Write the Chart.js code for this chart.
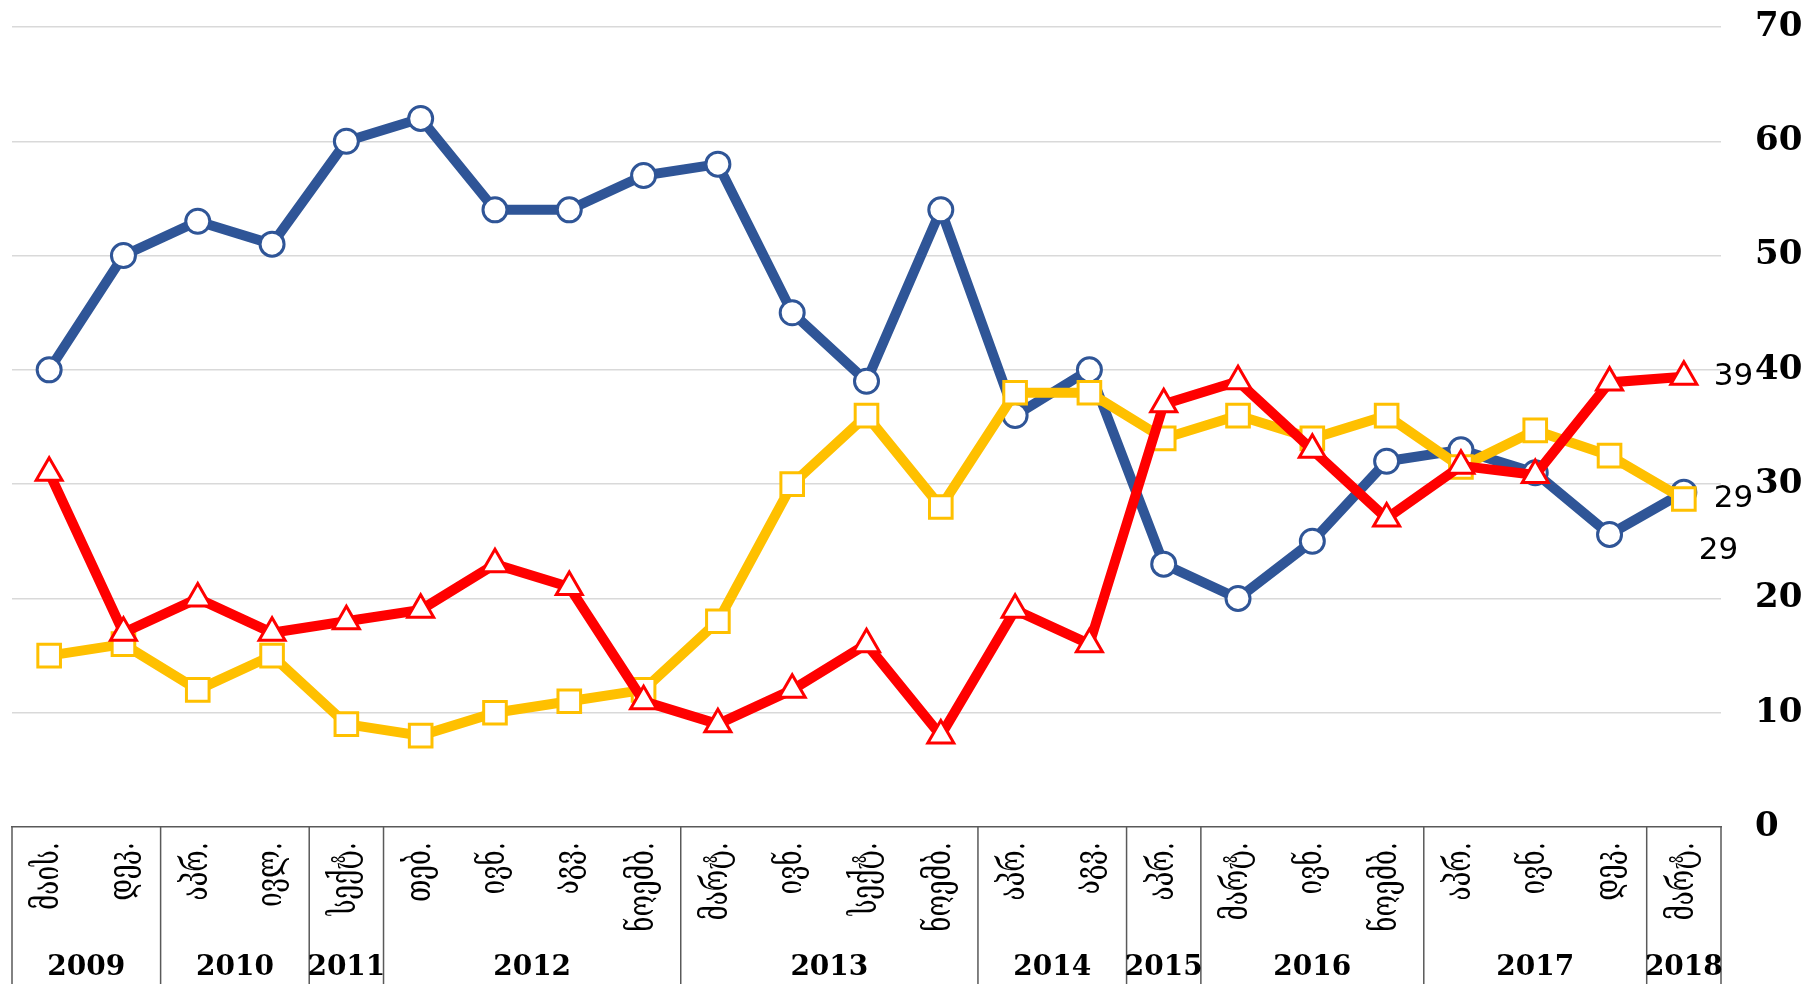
<!DOCTYPE html>
<html>
<head>
<meta charset="utf-8">
<script src="https://cdn.jsdelivr.net/npm/chart.js@4/dist/chart.umd.min.js"></script>
<style>
html,body{margin:0;padding:0;background:#fff;}
#wrap{width:1806px;height:984px;position:relative;}
</style>
</head>
<body>
<div id="wrap"><canvas id="c" width="1806" height="984"></canvas></div>
<script>
const months = ['მაის.','დეკ.','აპრ.','ივლ.','სექტ.','თებ.','ივნ.','აგვ.','ნოემბ.','მარტ.','ივნ.','სექტ.','ნოემბ.','აპრ.','აგვ.','აპრ.','მარტ.','ივნ.','ნოემბ.','აპრ.','ივნ.','დეკ.','მარტ.'];
const years = ['2009','2010','2011','2012','2013','2014','2015','2016','2017','2018'];
const yearCounts = [2,2,1,4,4,2,1,3,3,1];
const blueValues = [40,50,53,51,60,62,54,54,57,58,45,39,54,36,40,23,20,25,32,33,31,25.6,29.3];
const redValues = [31,17,20,17,18,19,23,21,11,9,12,16,8,19,16,37,39,33,27,31.6,30.8,38.9,39.4];
const yellowValues = [15,16,12,15,9,8,10,11,12,18,30,36,28,38,38,34,36,34,36,31.5,34.7,32.5,28.7];
const yTicks = [0,10,20,30,40,50,60,70];

const BLUE='#2F5597', RED='#FF0000', YELLOW='#FFC000';

const tablePlugin = {
  id: 'table',
  afterDraw(chart) {
    const {ctx, chartArea, scales: {x}} = chart;
    const top = chartArea.bottom, bottom = chart.height;
    const half = (x.getPixelForValue(1) - x.getPixelForValue(0)) / 2;
    const bounds = [x.getPixelForValue(0) - half];
    let idx = 0;
    yearCounts.forEach(c => { idx += c; bounds.push(x.getPixelForValue(idx - 1) + half); });
    ctx.save();
    ctx.strokeStyle = '#595959';
    ctx.lineWidth = 1.5;
    bounds.forEach(b => {
      ctx.beginPath(); ctx.moveTo(b, top); ctx.lineTo(b, bottom); ctx.stroke();
    });
    // month labels, rotated, reading bottom-to-top, end of text near the axis
    ctx.fillStyle = '#000';
    ctx.font = '26px "DejaVu Serif", "DejaVu Sans"';
    ctx.textAlign = 'right';
    ctx.textBaseline = 'middle';
    chart.data.labels.forEach((lab, i) => {
      ctx.save();
      ctx.translate(x.getPixelForValue(i), top + 15);
      ctx.rotate(-Math.PI / 2);
      ctx.scale(1, 1.35);
      ctx.fillText(lab, 0, 0);
      ctx.restore();
    });
    // year labels
    ctx.font = 'bold 28px "DejaVu Serif"';
    ctx.textAlign = 'center';
    ctx.textBaseline = 'middle';
    years.forEach((yr, i) => {
      ctx.fillText(yr, (bounds[i] + bounds[i + 1]) / 2, top + 141);
    });
    ctx.restore();
  }
};

const labelPlugin = {
  id: 'endLabels',
  afterDatasetsDraw(chart) {
    const {ctx} = chart;
    const offsets = [[30, 0], [30, 0], [15, 59]];
    ctx.save();
    ctx.fillStyle = '#000';
    ctx.font = '31px "DejaVu Sans"';
    ctx.textAlign = 'left';
    ctx.textBaseline = 'middle';
    chart.data.datasets.forEach((ds, i) => {
      const meta = chart.getDatasetMeta(i);
      const last = meta.data.length - 1;
      const pt = meta.data[last];
      ctx.fillText(String(Math.round(ds.data[last])), pt.x + offsets[i][0], pt.y + offsets[i][1]);
    });
    ctx.restore();
  }
};

new Chart(document.getElementById('c'), {
  type: 'line',
  data: {
    labels: months,
    datasets: [
      { label: 'red', data: redValues, borderColor: RED, borderWidth: 10, pointStyle: 'triangle',
        pointRadius: 15, pointBorderWidth: 3, pointBackgroundColor: '#fff', pointBorderColor: RED, order: 0, tension: 0 },
      { label: 'yellow', data: yellowValues, borderColor: YELLOW, borderWidth: 10, pointStyle: 'rect',
        pointRadius: 16, pointBorderWidth: 3, pointBackgroundColor: '#fff', pointBorderColor: YELLOW, order: 1, tension: 0 },
      { label: 'blue', data: blueValues, borderColor: BLUE, borderWidth: 10, pointStyle: 'circle',
        pointRadius: 12, pointBorderWidth: 3, pointBackgroundColor: '#fff', pointBorderColor: BLUE, order: 2, tension: 0 }
    ]
  },
  options: {
    responsive: false,
    animation: false,
    layout: { autoPadding: false, padding: { left: 12, top: 27, right: 0, bottom: 0 } },
    plugins: { legend: { display: false }, tooltip: { enabled: false } },
    scales: {
      x: {
        type: 'category',
        offset: true,
        grid: { display: false, drawTicks: false },
        border: { display: true, color: '#595959', width: 1.5 },
        ticks: { display: false },
        afterFit(scale) { scale.height = 157; scale.paddingLeft = 0; scale.paddingRight = 0; }
      },
      y: {
        position: 'right',
        min: 0, max: 70,
        afterBuildTicks(scale) { scale.ticks = yTicks.map(v => ({ value: v })); },
        grid: {
          drawTicks: false,
          color: ctx => ctx.tick && ctx.tick.value === 0 ? 'rgba(0,0,0,0)' : '#d9d9d9',
          lineWidth: 1.5
        },
        border: { display: false },
        ticks: {
          padding: 34, color: '#000',
          font: { family: '"DejaVu Serif"', size: 34, weight: 'bold' }
        },
        afterFit(scale) { scale.width = 85; scale.paddingTop = 0; scale.paddingBottom = 0; }
      }
    }
  },
  plugins: [tablePlugin, labelPlugin]
});
</script>
</body>
</html>
